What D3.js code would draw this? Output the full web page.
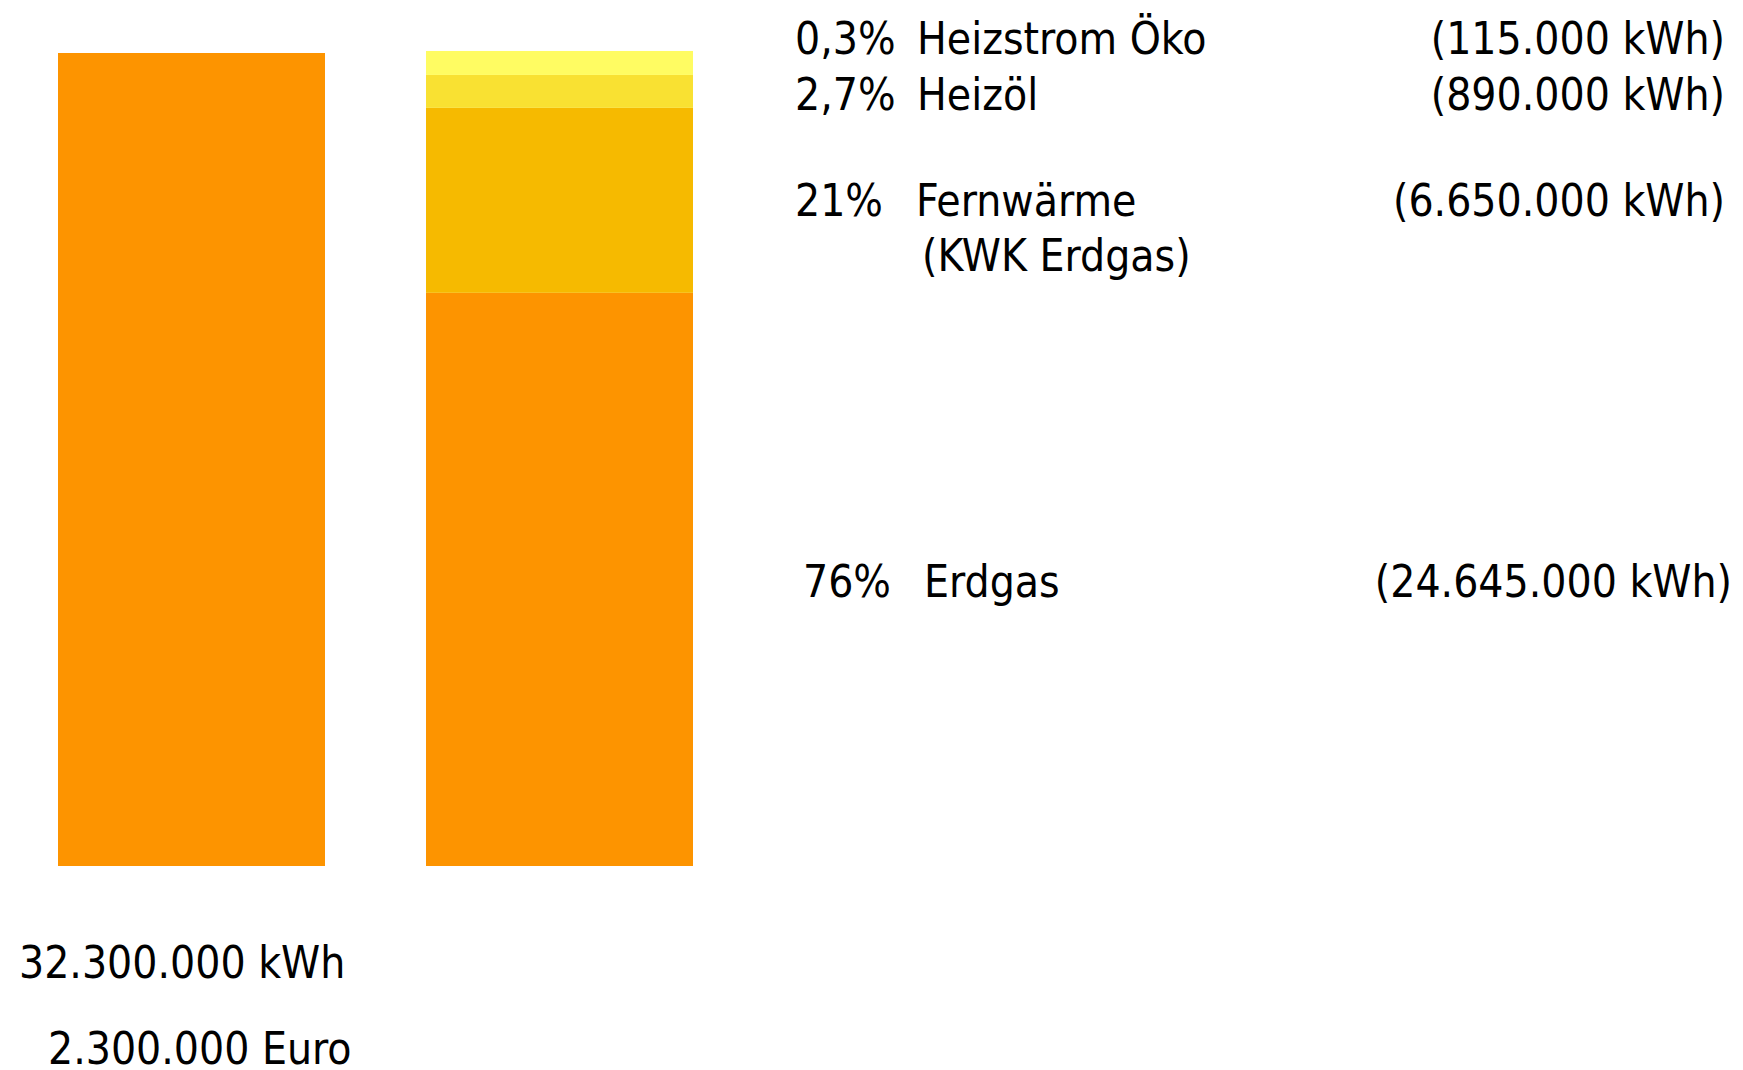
<!DOCTYPE html>
<html>
<head>
<meta charset="utf-8">
<script src="https://cdn.jsdelivr.net/npm/d3@7"></script>
<style>
  body { margin: 0; background: #fff; }
  svg text { font-family: "DejaVu Sans Condensed", "DejaVu Sans", sans-serif; fill: #000; }
</style>
</head>
<body>
<svg id="canvas_svg" width="1743" height="1070"></svg>
<script>
// bars
var bars = ["gesamt", "mix"];
var totalShare = [100];

// right bar, bottom to top (share of bar height)
var sources = ["Erdgas", "Fernwärme", "Heizöl", "Heizstrom Öko"];
var segShare = [70.5, 22.75, 4.05, 2.95];
var segColor = ["#fd9400", "#f6ba00", "#f9e132", "#fffc62"];

// legend texts
var pctLabels = ["76%", "21%", "2,7%", "0,3%"];
var nameLabels = ["Erdgas", "Fernwärme", "Heizöl", "Heizstrom Öko"];
var subLabels = ["", "(KWK Erdgas)", "", ""];
var kwhLabels = ["(24.645.000 kWh)", "(6.650.000 kWh)", "(890.000 kWh)", "(115.000 kWh)"];

var totalLabels = ["32.300.000 kWh", "2.300.000 Euro"];

var svg = d3.select("#canvas_svg");

var x = d3.scaleBand()
    .domain(bars)
    .range([58, 693])
    .paddingInner(0.2745)
    .paddingOuter(0);

var y = d3.scaleLinear()
    .domain([0, 100])
    .range([866, 53]);

// left bar
svg.append("rect")
    .attr("x", x("gesamt"))
    .attr("width", x.bandwidth())
    .attr("y", y(totalShare[0]))
    .attr("height", y(0) - y(totalShare[0]))
    .attr("fill", segColor[0]);

// stacked right bar
var stack = [];
var acc = 0;
segShare.forEach(function(v, i) {
  stack.push({ name: sources[i], y0: acc, y1: acc + v, color: segColor[i] });
  acc += v;
});

svg.append("g")
    .selectAll("rect")
    .data(stack)
    .enter()
    .append("rect")
    .attr("x", x("mix"))
    .attr("width", x.bandwidth())
    .attr("y", function(d) { return y(d.y1); })
    .attr("height", function(d) { return y(d.y0) - y(d.y1); })
    .attr("fill", function(d) { return d.color; });

// legend layout (baselines, columns)
var fs = 44;
var rowY = [597, 216, 110, 54];
var pctX = [803, 795, 795, 795];
var nameX = [924, 916, 917, 917];
var kwhX = [1732, 1725, 1725, 1725];

var legend = svg.append("g").style("font-size", fs + "px");

pctLabels.forEach(function(t, i) {
  legend.append("text").attr("x", pctX[i]).attr("y", rowY[i]).text(t);
  legend.append("text").attr("x", nameX[i]).attr("y", rowY[i]).text(nameLabels[i]);
  legend.append("text").attr("x", kwhX[i]).attr("y", rowY[i])
      .attr("text-anchor", "end").text(kwhLabels[i]);
  if (subLabels[i] != "") {
    legend.append("text").attr("x", nameX[i] + 6).attr("y", rowY[i] + 55).text(subLabels[i]);
  }
});

// totals under the left bar
var totX = [19, 48];
var totY = [978, 1064];
totalLabels.forEach(function(t, i) {
  svg.append("text")
      .attr("x", totX[i])
      .attr("y", totY[i])
      .style("font-size", fs + "px")
      .text(t);
});
</script>
</body>
</html>
